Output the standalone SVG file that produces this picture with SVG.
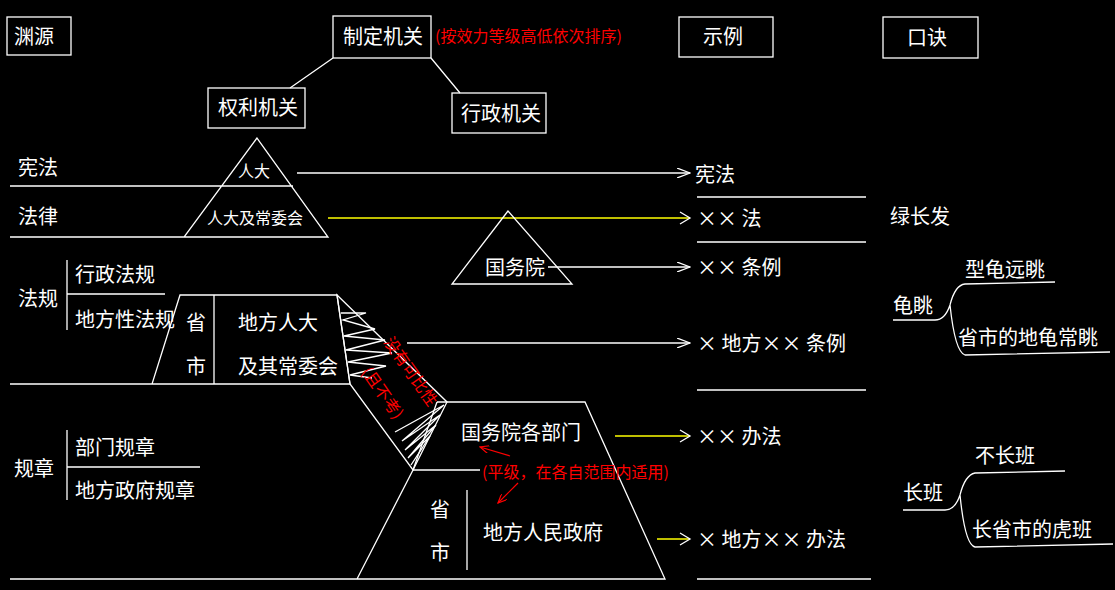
<svg xmlns="http://www.w3.org/2000/svg" width="1115" height="590" viewBox="0 0 1115 590">
<style>
text{font-family:"Noto Sans CJK SC",sans-serif;font-size:20px;fill:#fff}
.r{fill:#f00;font-size:16px}
.l{stroke:#fff;stroke-width:1.3;fill:none}
.y{stroke:#ff0;stroke-width:1.3;fill:none}
.rl{stroke:#f00;stroke-width:1.2;fill:none}
</style>
<defs>
<marker id="a" markerWidth="14" markerHeight="10" refX="13" refY="5" orient="auto" markerUnits="userSpaceOnUse"><path d="M0,0 L13,5 L0,10" fill="none" stroke="#fff" stroke-width="1.3"/></marker>
<marker id="ra" markerWidth="10" markerHeight="8" refX="9" refY="4" orient="auto" markerUnits="userSpaceOnUse"><path d="M0,0 L9,4 L0,8" fill="none" stroke="#f00" stroke-width="1.2"/></marker>
</defs>
<rect width="1115" height="590" fill="#000"/>
<g id="headers">
<rect class="l" x="7" y="17" width="64" height="38"/><text x="14" y="44">渊源</text>
<rect class="l" x="333" y="16" width="98" height="42"/><text x="343" y="44">制定机关</text>
<text class="r" x="435" y="42">(按效力等级高低依次排序)</text>
<rect class="l" x="679" y="17" width="94" height="40"/><text x="703" y="44">示例</text>
<rect class="l" x="883" y="17" width="95" height="41"/><text x="907" y="45">口诀</text>
<rect class="l" x="208" y="88" width="97" height="40"/><text x="218" y="115">权利机关</text>
<rect class="l" x="452" y="93" width="94" height="40"/><text x="461" y="121">行政机关</text>
</g>
<g id="connectors">
<path class="l" d="M333,58 L290,88 M431,58 L460,93"/>
<path class="l" d="M297,173 H690" marker-end="url(#a)"/>
<path class="y" d="M328,218 H690"/><path class="l" d="M680,212 L690,218 L680,224"/>
<path class="l" d="M548,267 H690" marker-end="url(#a)"/>
<path class="l" d="M407,343 H690" marker-end="url(#a)"/>
<path class="y" d="M615,436 H690"/><path class="l" d="M680,430 L690,436 L680,442"/>
<path class="y" d="M657,539 H690"/><path class="l" d="M680,533 L690,539 L680,545"/>
<path class="l" d="M697,197 H866 M697,242 H866 M697,390 H866 M697,579 H871"/>
</g>
<g id="renda">
<path class="l" d="M257,138 L184,237 H328 Z M219,186 H293 M10,186 H219 M10,237 H184"/>
<text x="238" y="177" style="font-size:16px">人大</text>
<text x="207" y="224" style="font-size:16px">人大及常委会</text>
<text x="18" y="175">宪法</text><text x="18" y="224">法律</text>
</g>
<g id="guowuyuan">
<path class="l" d="M508,211 L452,284 H572 Z"/>
<text x="485" y="275">国务院</text>
</g>
<g id="fagui">
<text x="18" y="306">法规</text>
<path class="l" d="M67,260 V330 M67,294 H165"/>
<text x="75" y="282">行政法规</text><text x="75" y="327">地方性法规</text>
<path class="l" d="M180,295 H337 L350,384 H152 Z M214,295 V384 M10,384 H152"/>
<text x="186" y="330">省</text><text x="186" y="374">市</text>
<text x="238" y="330">地方人大</text><text x="238" y="374">及其常委会</text>
</g>
<g id="hatch">
<path class="l" d="M337,295 L447,402 L413,470 L350,384 Z"/>
<path class="l" d="M341,313 L366,313 L343,320 L375,329 L344,336 L385,340 L346,350 L392,353 L348,362 L386,366 L350,375 L372,378 M395,432 L444,405 L402,441 L440,415 L405,450 L436,425 L408,458 L430,436 L411,465 L423,447"/>
<text class="r" transform="translate(383,342) rotate(55)">没有可比性</text>
<text class="r" transform="translate(361,372) rotate(55)">(且不考)</text>
</g>
<g id="bumen">
<path class="l" d="M437,402 H585 L665,579 H10 M437,402 L413,470 L357,579 M413,470 H480 M467,490 V570"/>
<text x="461" y="440">国务院各部门</text>
<text x="430" y="517">省</text><text x="430" y="560">市</text>
<text x="483" y="540">地方人民政府</text>
<text class="r" x="482" y="478">(平级，在各自范围内适用)</text>
<path class="rl" d="M510,456 L480,447" marker-end="url(#ra)"/>
<path class="rl" d="M518,483 L498,503" marker-end="url(#ra)"/>
</g>
<g id="guizhang">
<text x="14" y="476">规章</text>
<path class="l" d="M67,430 V500 M67,467 H200"/>
<text x="75" y="455">部门规章</text><text x="75" y="498">地方政府规章</text>
</g>
<g id="examples">
<text x="695" y="182">宪法</text>
<text x="697" y="226">×× 法</text>
<text x="697" y="275">×× 条例</text>
<text x="697" y="351">× 地方×× 条例</text>
<text x="697" y="444">×× 办法</text>
<text x="697" y="547">× 地方×× 办法</text>
</g>
<g id="koujue">
<text x="890" y="224">绿长发</text>
<text x="893" y="313">龟眺</text>
<path class="l" d="M893,320 H935 Q945,320 950,305 Q955,285 965,284 L1055,282 M950,305 Q955,352 965,355 L1110,352"/>
<text x="965" y="277">型龟远眺</text>
<text x="958" y="345">省市的地龟常眺</text>
<text x="903" y="500">长班</text>
<path class="l" d="M903,510 H945 Q955,510 960,495 Q965,475 975,473 L1065,471 M960,495 Q965,545 975,547 L1113,544"/>
<text x="975" y="463">不长班</text>
<text x="972" y="537">长省市的虎班</text>
</g>
</svg>
